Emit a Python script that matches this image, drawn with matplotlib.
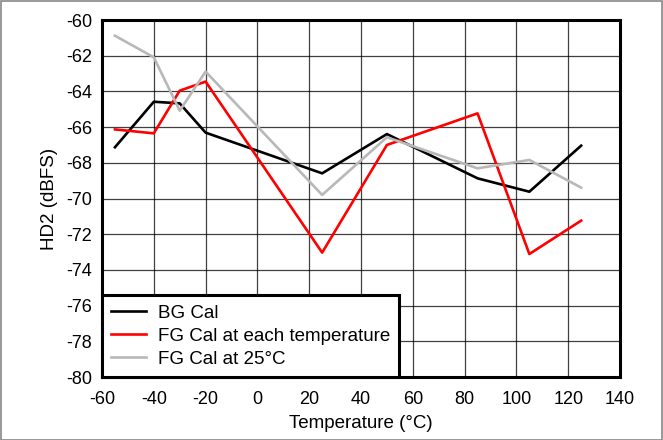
import matplotlib
matplotlib.use("Agg")
import matplotlib.pyplot as plt
from matplotlib.patches import Rectangle

plt.rcParams['font.family'] = ['Liberation Sans', 'DejaVu Sans']
plt.rcParams['axes.unicode_minus'] = False

temperature = [-55, -40, -30, -20, 25, 50, 85, 105, 125]
bg_cal = [-67.13, -64.58, -64.67, -66.31, -68.59, -66.39, -68.87, -69.62, -67.04]
fg_cal_each = [-66.13, -66.35, -63.96, -63.45, -73.03, -67.0, -65.23, -73.11, -71.24]
fg_cal_25 = [-60.88, -62.09, -65.08, -62.89, -69.80, -66.57, -68.31, -67.84, -69.39]

x_ticks = list(range(-60, 141, 20))
y_ticks = list(range(-80, -59, 2))

fig = plt.figure(figsize=(6.63, 4.40), dpi=100)
ax = fig.add_axes([102/663, 1-377/440, (620-102)/663, (377-20)/440])

ax.plot(temperature, bg_cal, color='black', lw=1.9, label='BG Cal', zorder=3)
ax.plot(temperature, fg_cal_each, color='#ff0000', lw=1.9, label='FG Cal at each temperature', zorder=3)
ax.plot(temperature, fg_cal_25, color='#b8b8b8', lw=1.9, label='FG Cal at 25°C', zorder=3)

ax.set_xlim(-60, 140)
ax.set_ylim(-80, -60)
ax.set_xticks(x_ticks)
ax.set_yticks(y_ticks)
ax.grid(True, color='black', lw=0.9, alpha=0.75)
ax.set_axisbelow(True)
for s in ax.spines.values():
    s.set_linewidth(2.2)
ax.tick_params(length=0, labelsize=13)
ax.tick_params(axis='x', pad=10)
ax.tick_params(axis='y', pad=7)

ax.set_xlabel('Temperature (°C)', fontsize=13.5, labelpad=5)
ax.set_ylabel('HD2 (dBFS)', fontsize=13.5, labelpad=6)

leg = ax.legend(loc='lower left', borderaxespad=0, fancybox=False, framealpha=1,
                edgecolor='black', fontsize=13.5, handlelength=1.87, handletextpad=0.59,
                labelspacing=0.31, borderpad=0.5)
leg.get_frame().set_linewidth(2.2)
leg.set_zorder(5)

fig.patches.append(Rectangle((0.001, 0.001), 0.998, 0.997, transform=fig.transFigure,
                             fill=False, edgecolor='#888888', lw=1.2))

fig.savefig('out.png', dpi=100)
